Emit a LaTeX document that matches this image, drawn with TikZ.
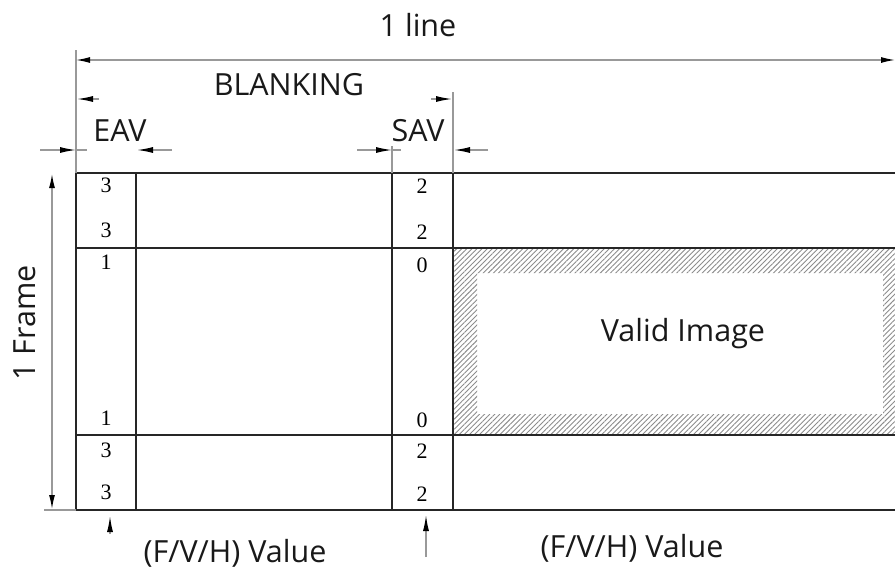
\documentclass[tikz,border=0pt]{standalone}
\usepackage{fontspec}
\setmainfont{Liberation Serif}
\newfontfamily\labfont{Open Sans}
\usetikzlibrary{arrows.meta,patterns.meta}
\begin{document}
\begin{tikzpicture}[x=1pt,y=-1pt,
  gridline/.style={line width=2.4pt, draw=black!85},
  dimline/.style={line width=1.3pt, draw=black!40},
  dimtip/.style={-{Latex[length=16pt,width=6pt,color=black]}, line width=1.3pt, draw=black!40},
  dimtips/.style={{Latex[length=14pt,width=6pt,color=black]}-{Latex[length=14pt,width=6pt,color=black]}, line width=1.3pt, draw=black!40},
  lbl/.style={font=\labfont\fontsize{30.5}{34}\selectfont, text=black!90, inner sep=0pt},
  dig/.style={font=\fontsize{22}{24}\selectfont, inner sep=0pt, text=black}]
\useasboundingbox (0,0) rectangle (895,573);
% hatched valid-image border
\fill[pattern={Lines[angle=45,distance=3.6pt,line width=0.9pt]}, pattern color=black!45, even odd rule]
  (453,248) rectangle (895,435) (477,273) rectangle (883,414);
% grid
\foreach \yy in {173,248,435,510} \draw[gridline] (76,\yy) -- (895,\yy);
\foreach \xx in {76,136,392,453} \draw[gridline] (\xx,173) -- (\xx,510);
% coordinates
\coordinate (lineL) at (76,60);
\coordinate (lineR) at (895,60);
\coordinate (extA1) at (76,50);
\coordinate (extA2) at (76,173);
\coordinate (extB1) at (453,92);
\coordinate (extB2) at (453,173);
\coordinate (extC1) at (392,146);
\coordinate (extC2) at (392,173);
\coordinate (blL0) at (99,99);
\coordinate (blL1) at (77,99);
\coordinate (blR0) at (431,99);
\coordinate (blR1) at (452,99);
\coordinate (eavA0) at (40,150);
\coordinate (eavA1) at (76,150);
\coordinate (eavA2) at (87,150);
\coordinate (eavB0) at (172,150);
\coordinate (eavB1) at (137,150);
\coordinate (savA0) at (357,150);
\coordinate (savA1) at (392,150);
\coordinate (savA2) at (401,150);
\coordinate (savB0) at (488,150);
\coordinate (savB1) at (454,150);
\coordinate (frT) at (52,174);
\coordinate (frB) at (52,509);
\coordinate (frE0) at (44,510);
\coordinate (frE1) at (76,510);
\coordinate (vA0) at (110,534);
\coordinate (vA1) at (110,516);
\coordinate (vB0) at (426,557);
\coordinate (vB1) at (426,515);
% dimension lines
\draw[dimline] (extA1) -- (extA2);
\draw[dimline] (extB1) -- (extB2);
\draw[dimline] (extC1) -- (extC2);
\draw[dimtips] (lineL) -- (lineR);
\draw[dimtip] (blL0) -- (blL1);
\draw[dimtip] (blR0) -- (blR1);
\draw[dimline] (eavA1) -- (eavA2);
\draw[dimtip] (eavA0) -- (eavA1);
\draw[dimtip] (eavB0) -- (eavB1);
\draw[dimline] (savA1) -- (savA2);
\draw[dimtip] (savA0) -- (savA1);
\draw[dimtip] (savB0) -- (savB1);
\draw[dimtips] (frT) -- (frB);
\draw[dimline] (frE0) -- (frE1);
\draw[dimtip] (vA0) -- (vA1);
\draw[dimtip] (vB0) -- (vB1);
% labels
\node[lbl] (tline) at (418,25) {1 line};
\node[lbl] (tblank) at (289,85) {BLANKING};
\node[lbl] (teav) at (120,131) {EAV};
\node[lbl] (tsav) at (418,131) {SAV};
\node[lbl, rotate=90] (tframe) at (25,323) {1 Frame};
\node[lbl] (tvalid) at (683,334) {Valid Image};
\node[lbl] (tval1) at (235,553) {(F/V/H) Value};
\node[lbl] (tval2) at (632,548) {(F/V/H) Value};
% digits
\node[dig] (e1) at (106,185) {3};
\node[dig] (e2) at (106,230) {3};
\node[dig] (e3) at (106,262) {1};
\node[dig] (e4) at (106,418) {1};
\node[dig] (e5) at (106,450) {3};
\node[dig] (e6) at (106,492) {3};
\node[dig] (s1) at (422,186) {2};
\node[dig] (s2) at (422,232) {2};
\node[dig] (s3) at (422,265) {0};
\node[dig] (s4) at (422,420) {0};
\node[dig] (s5) at (422,451) {2};
\node[dig] (s6) at (422,494) {2};
\end{tikzpicture}
\end{document}
